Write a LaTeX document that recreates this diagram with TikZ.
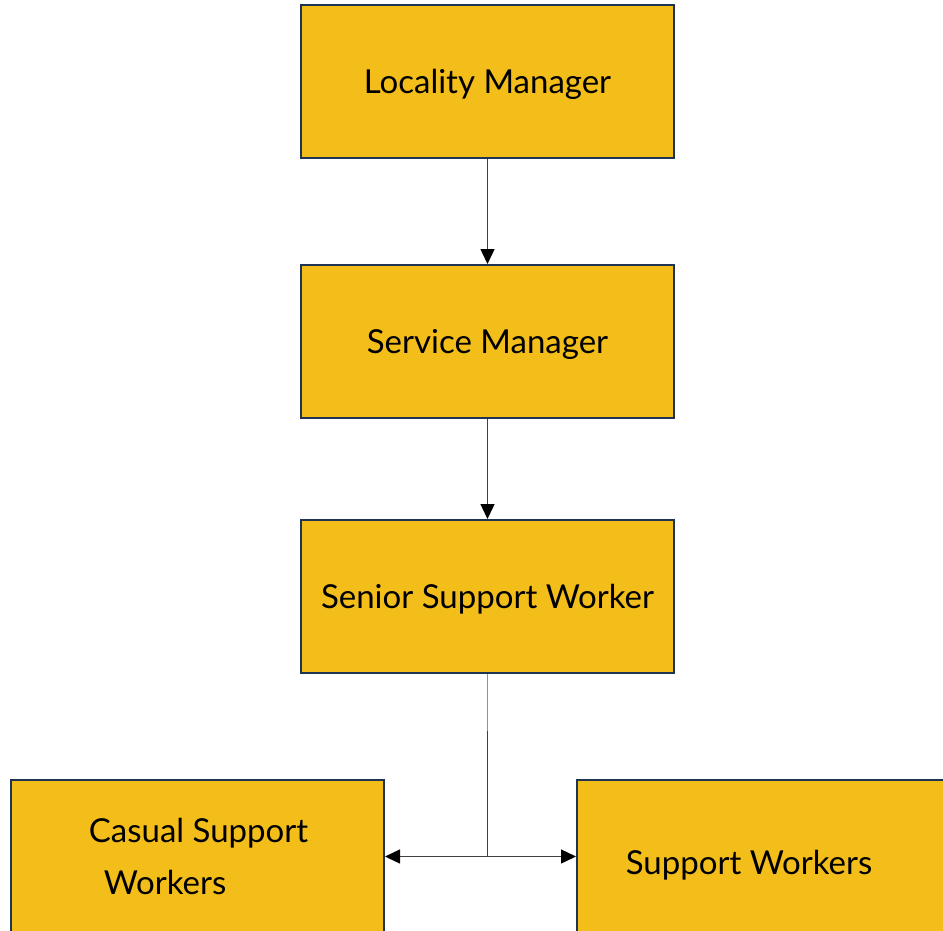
\documentclass[tikz,border=0pt]{standalone}
\usepackage{fontspec}
\setmainfont{Lato}
\usetikzlibrary{arrows.meta}
\definecolor{boxfill}{HTML}{F4BE1A}
\definecolor{boxline}{HTML}{1F3352}
\definecolor{conn}{HTML}{404040}
\definecolor{connblue}{HTML}{6E95D6}
\begin{document}
\begin{tikzpicture}[x=1pt,y=-1pt,
  boxfont/.style={font=\fontsize{33}{52}\selectfont, text=black},
  orgbox/.style={draw=boxline, line width=2pt, fill=boxfill, minimum width=373pt, minimum height=153pt, inner sep=0pt, boxfont, text height=24pt, text depth=0pt},
  link/.style={draw=conn, line width=1.4pt},
  tip/.style={-{Triangle[length=15pt,width=14pt,color=black]}}]
\useasboundingbox (0,0) rectangle (943,930);
\fill[white] (0,0) rectangle (943,930);
\node[orgbox] (lm) at (487.5,81.5) {Locality Manager};
\node[orgbox] (sm) at (487.5,341.5) {Service Manager};
\node[orgbox] (ssw) at (487.5,596.5) {Senior Support Worker};
\node[orgbox, label={[boxfont, align=left, xshift=1pt, yshift=0pt]center:Casual Support\\\hspace*{15pt}Workers}] (csw) at (197.5,856.5) {};
\node[orgbox, label={[boxfont, text height=24pt, text depth=0pt, xshift=-14.5pt, yshift=-5.5pt]center:Support Workers}] (sw) at (763.5,856.5) {};
\coordinate (split) at (ssw.south |- 0,731);
\coordinate (hub) at (ssw.south |- csw.east);
\draw[link, tip] (lm.south) -- (sm.north);
\draw[link, tip] (sm.south) -- (ssw.north);
\draw[draw=connblue, line width=1.4pt] (ssw.south) -- (split);
\draw[link] (split) -- (hub);
\draw[link, tip] (hub) -- (csw.east);
\draw[link, tip] (hub) -- (sw.west);
\end{tikzpicture}
\end{document}
